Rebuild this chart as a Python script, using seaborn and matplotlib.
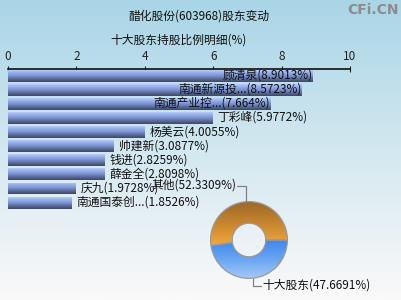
import numpy as np
import pandas as pd
import matplotlib
matplotlib.use("Agg")
import matplotlib.pyplot as plt
from matplotlib.colors import LinearSegmentedColormap
import seaborn as sns

# ---------------- data ----------------
holders = ["顾清泉", "南通新源投...", "南通产业控...", "丁彩峰", "杨美云",
           "帅建新", "钱进", "薛金全", "庆九", "南通国泰创..."]
pct = [8.9013, 8.5723, 7.664, 5.9772, 4.0055, 3.0877, 2.8259, 2.8098, 1.9728, 1.8526]
pct_text = ["8.9013", "8.5723", "7.664", "5.9772", "4.0055",
            "3.0877", "2.8259", "2.8098", "1.9728", "1.8526"]
pie_labels = ["其他", "十大股东"]
pie_values = [52.3309, 47.6691]
pie_text = ["52.3309", "47.6691"]
xticks = [0, 2, 4, 6, 8, 10]
title = "醋化股份(603968)股东变动"
subtitle = "十大股东持股比例明细(%)"

sns.set_theme(style="white")
plt.rcParams['font.family'] = ['Noto Sans CJK SC', 'DejaVu Sans']

W, H = 402, 300
fig = plt.figure(figsize=(W / 100, H / 100), dpi=100)

def px_rect(x0, y0, x1, y1):
    return [x0 / W, 1 - y1 / H, (x1 - x0) / W, (y1 - y0) / H]

# background gradient
bg = fig.add_axes([0, 0, 1, 1], zorder=0)
bg_cmap = LinearSegmentedColormap.from_list("bg", ["#a9d5e7", "#d3e8f0", "#fbf9f9"])
bg.imshow(np.linspace(0, 1, 256).reshape(-1, 1), aspect="auto", cmap=bg_cmap,
          extent=(0, 1, 0, 1), origin="upper")
bg.set_axis_off()

# ---------------- bar chart ----------------
ax = fig.add_axes(px_rect(8, 69, 350, 209.6), zorder=2)
ax.patch.set_alpha(0)
df = pd.DataFrame({"name": holders, "pct": pct})
sns.barplot(data=df, x="pct", y="name", orient="h", ax=ax, width=0.85,
            color="#8aa4e0", edgecolor="none", saturation=1)
ax.set_xlim(0, 10)
ax.set_ylim(9.5, -0.5)
bar_cmap = LinearSegmentedColormap.from_list(
    "bar", ["#b6cbf9", "#94ade8", "#7890cc", "#5a6a98", "#3d4862"])
grad = np.linspace(0, 1, 64).reshape(-1, 1)
for p in list(ax.patches):
    x0, y0 = p.get_x(), p.get_y()
    w, h = p.get_width(), p.get_height()
    im = ax.imshow(grad, cmap=bar_cmap, aspect="auto", origin="upper",
                   extent=(x0, x0 + w, y0 + h, y0), zorder=3)
    im.set_clip_path(p)
ax.set_xlim(0, 10)
ax.set_ylim(9.5, -0.5)

ax.xaxis.tick_top()
ax.set_xticks(xticks)
ax.set_xticklabels([str(t) for t in xticks], fontsize=8.5, color="#222222")
ax.tick_params(axis="x", which="both", direction="inout", length=4, width=0.8,
               color="#222222", pad=2, top=True, bottom=False)
ax.set_yticks([])
ax.set_xlabel("")
ax.set_ylabel("")
for s in ["left", "right", "bottom"]:
    ax.spines[s].set_visible(False)
ax.spines["top"].set_color("#111111")
ax.spines["top"].set_linewidth(1.2)

px_per_unit = 342 / 10
for i, (n, v, t) in enumerate(zip(holders, pct, pct_text)):
    label = f"{n}({t}%)"
    if i < 3:
        ax.text(v, i - 0.05, label, ha="right", va="center", fontsize=8.5,
                color="#111111", zorder=5)
    else:
        ax.text(v + 5 / px_per_unit, i - 0.05, label, ha="left", va="center",
                fontsize=8.5, color="#111111", zorder=5)

# ---------------- donut ----------------
cx, cy, R = 249, 240, 40
pax = fig.add_axes(px_rect(cx - R, cy - R, cx + R, cy + R), zorder=3)
pax.patch.set_alpha(0)
wedges, _ = pax.pie(pie_values, startangle=0, counterclock=True, radius=0.96,
                    colors=["#f2a63a", "#4a8eee"],
                    wedgeprops=dict(width=0.54, edgecolor="#9a9a9a", linewidth=0.9))
pax.set_xlim(-1, 1)
pax.set_ylim(-1, 1)
pax.set_aspect("equal")
cm_orange = LinearSegmentedColormap.from_list("o", ["#9a6628", "#c8862f", "#f6ac3e"])
cm_blue = LinearSegmentedColormap.from_list("b", ["#3c86ee", "#6aa6f2", "#aacbf8"])
g = np.linspace(0, 1, 64).reshape(-1, 1)
for wdg, cmap, ext in [(wedges[0], cm_orange, (-1, 1, -0.2, 1)),
                       (wedges[1], cm_blue, (-1, 1, -1, 0.02))]:
    im = pax.imshow(g, cmap=cmap, origin="upper", extent=ext,
                    aspect="auto", zorder=wdg.get_zorder() + 0.1)
    im.set_clip_path(wdg)
    wdg.set_zorder(wdg.get_zorder() + 0.2)
    wdg.set_facecolor("none")
pax.set_xlim(-1, 1)
pax.set_ylim(-1, 1)
pax.set_axis_off()

# ---------------- overlay text ----------------
ov = fig.add_axes([0, 0, 1, 1], zorder=4)
ov.set_xlim(0, W)
ov.set_ylim(H, 0)
ov.set_axis_off()
ov.patch.set_alpha(0)
ov.text(199, 16, title, ha="center", va="center", fontsize=8.5, color="#111111")
ov.text(179, 40, subtitle, ha="center", va="center", fontsize=8.5, color="#111111")
ov.text(399, 10, "CFi.CN", ha="right", va="center", fontsize=10, color="#8c8c8c",
        fontweight="bold", family="DejaVu Sans")

ov.plot([237, 246, 246], [186, 186, 201], color="#808080", lw=0.9)
ov.text(236, 185, f"{pie_labels[0]}({pie_text[0]}%)", ha="right", va="center",
        fontsize=8.5, color="#111111")
ov.plot([253, 253, 261], [279, 286, 286], color="#808080", lw=0.9)
ov.text(262, 285, f"{pie_labels[1]}({pie_text[1]}%)", ha="left", va="center",
        fontsize=8.5, color="#111111")

fig.savefig("out.png", dpi=100)
